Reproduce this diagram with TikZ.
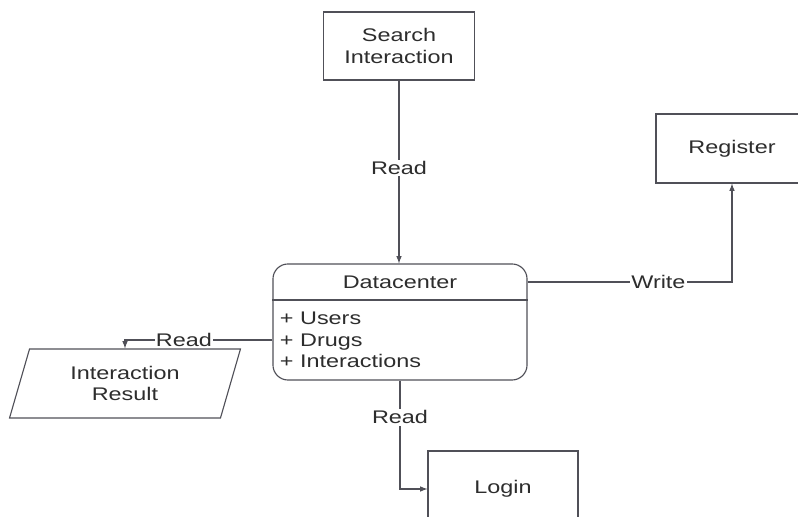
\documentclass[tikz,border=0pt]{standalone}
\usepackage{fontspec}
\setmainfont{Liberation Sans}[FakeStretch=1.28]
\usetikzlibrary{shapes.geometric}

\definecolor{linegray}{RGB}{80,80,88}
\definecolor{textgray}{RGB}{45,45,45}

\tikzset{
  procbox/.style={draw=linegray, line width=0.8pt, align=center, inner sep=0pt},
  lbl/.style={fill=white, inner sep=1pt},
}

\begin{document}
\begin{tikzpicture}[x=0.025cm,y=-0.025cm,>=latex,
  every node/.style={font=\fontsize{13pt}{15.5pt}\selectfont, text=textgray}]
\useasboundingbox (0,0) rectangle (798,517);

\node[procbox, minimum width=3.775cm, minimum height=1.7cm] (search) at (399,46) {Search\\Interaction};
\node[procbox, minimum width=3.8cm, minimum height=1.725cm] (reg) at (732,148.5) {Register};
\node[procbox, minimum width=3.75cm, minimum height=1.9cm] (login) at (503,489) {Login};
\node[procbox, trapezium, trapezium left angle=72, trapezium right angle=108, trapezium stretches=true,
      minimum width=5.8cm, minimum height=1.725cm] (result) at (125,383.5) {Interaction\\Result};

% datacenter
\node[procbox, rounded corners=0.375cm, minimum width=6.35cm, minimum height=2.9cm] (dc) at (400,322) {};
\node (dctitle) at (400,282) {Datacenter};
\draw [linegray, line width=0.8pt] (dc.west |- 0,300) -- (dc.east |- 0,300);
\node [anchor=west, align=left] (dcattr) at (275,340) {+ Users\\+ Drugs\\+ Interactions};

\begin{scope}[linegray, line width=0.8pt]
\draw [->] (search) -- node[lbl, pos=0.48]{Read} (search |- dc.north);
\draw [->] (dc.east |- dctitle) -| node[lbl, pos=0.32]{Write} (reg);
\draw [->] (dc.west |- dcattr) -| node[lbl, pos=0.3]{Read} (result.center |- result.north);
\draw [->] (dc.south) |- node[lbl, pos=0.17]{Read} (login);
\end{scope}
\end{tikzpicture}
\end{document}
